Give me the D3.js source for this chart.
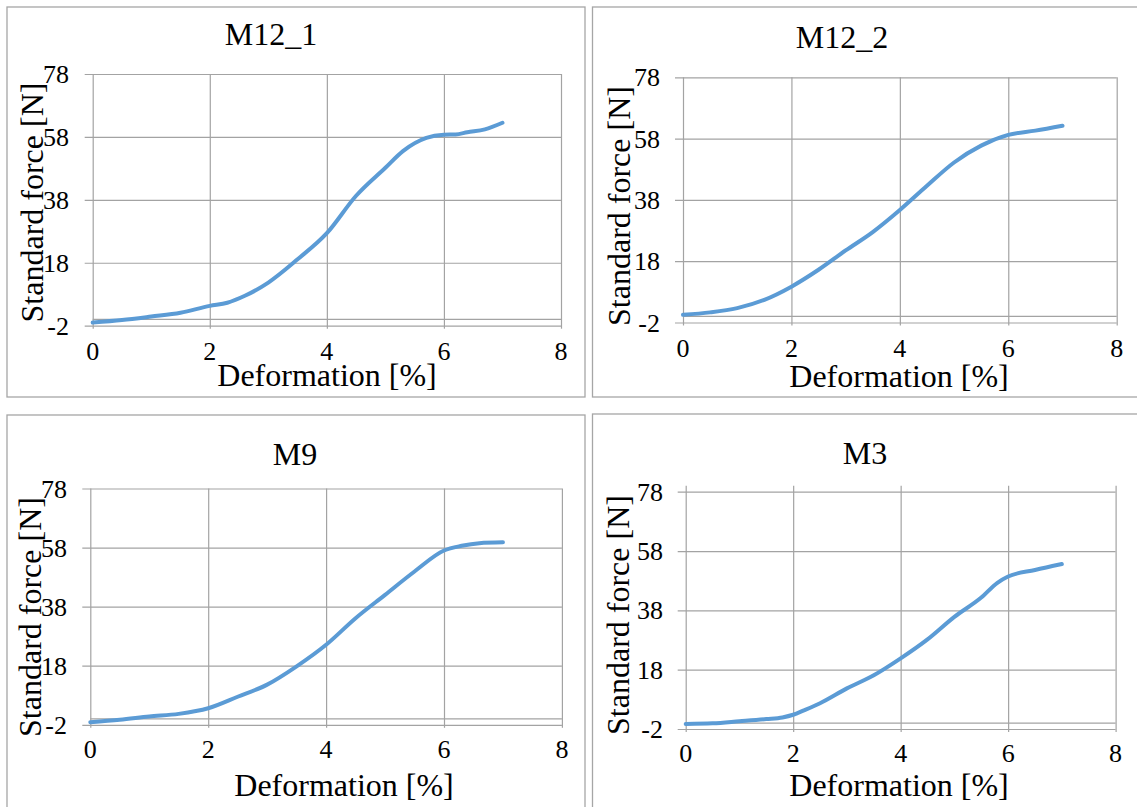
<!DOCTYPE html>
<html>
<head>
<meta charset="utf-8">
<script src="https://cdn.jsdelivr.net/npm/d3@7"></script>
<style>
  html, body { margin: 0; padding: 0; background: #fff; }
  svg { display: block; }
</style>
</head>
<body>
<svg id="chart" width="1137" height="807" font-family="'Liberation Serif', 'Times New Roman', serif"></svg>
<script>
// ---------- data ----------
const xTicks = [0, 2, 4, 6, 8];
const yTicks = [-2, 18, 38, 58, 78];
const xTitle = "Deformation [%]";
const yTitle = "Standard force [N]";
const panelTitles = ["M12_1", "M12_2", "M9", "M3"];

const m12_1_x = [0, 0.5, 1, 1.5, 2, 2.3, 2.6, 3, 3.5, 4, 4.5, 5, 5.3, 5.7, 6, 6.2, 6.4, 6.7, 7];
const m12_1_y = [-1.0, -0.2, 0.9, 2.1, 4.3, 5.3, 7.5, 11.7, 19.1, 27.4, 39.3, 48.2, 53.5, 57.7, 58.7, 58.8, 59.5, 60.4, 62.5];

const m12_2_x = [0, 0.5, 1, 1.5, 2, 2.5, 3, 3.5, 4, 4.5, 5, 5.5, 6, 6.5, 7];
const m12_2_y = [0.5, 1.3, 2.7, 5.4, 9.7, 15.2, 21.5, 27.5, 34.7, 42.6, 50.2, 55.7, 59.2, 60.6, 62.2];

const m9_x = [0, 0.5, 1, 1.5, 2, 2.5, 3, 3.5, 4, 4.5, 5, 5.5, 6, 6.3, 6.6, 7];
const m9_y = [-1.1, -0.3, 0.8, 1.7, 3.6, 7.5, 11.6, 17.8, 25.1, 34.1, 42.0, 49.9, 57.0, 58.6, 59.5, 59.8];

const m3_x = [0, 0.5, 1, 1.5, 1.8, 2, 2.2, 2.5, 3, 3.5, 4, 4.5, 5, 5.5, 5.8, 6, 6.5, 7];
const m3_y = [-0.3, -0.1, 0.6, 1.35, 1.9, 2.8, 4.3, 6.7, 11.7, 16.1, 21.8, 28.2, 35.8, 42.3, 47.3, 49.4, 51.6, 53.6];

const seriesX = [m12_1_x, m12_2_x, m9_x, m3_x];
const seriesY = [m12_1_y, m12_2_y, m9_y, m3_y];

// ---------- layout ----------
const layout = [
  { frame: [7, 7, 585, 397], plot: [92.7, 74, 561, 325.7], title: [271, 45], ytitle: [43, 202.5], xtitle: [327, 386], tickRight: 69, xLabelBase: 360, topTick: 0 },
  { frame: [592.5, 7, 1145, 397], plot: [683, 77.3, 1116.7, 322.5], title: [842, 48], ytitle: [630, 206], xtitle: [899, 386.5], tickRight: 660, xLabelBase: 356.5, topTick: 0 },
  { frame: [7, 415, 585, 815], plot: [90.3, 488.5, 561.9, 724.8], title: [295, 465], ytitle: [41, 617], xtitle: [344, 796], tickRight: 67, xLabelBase: 758, topTick: 0 },
  { frame: [592.5, 414, 1145, 815], plot: [685.7, 491.7, 1115.6, 729], title: [865, 464], ytitle: [629, 615], xtitle: [899, 796], tickRight: 663, xLabelBase: 761.5, topTick: 6 }
];

const FONT = "'Liberation Serif', 'Times New Roman', serif";
const gridColor = "#a3a3a3";
const frameColor = "#a6a6a6";
const lineColor = "#5b9bd5";

const svg = d3.select("#chart");
svg.append("rect").attr("width", 1137).attr("height", 807).attr("fill", "#fff");

layout.forEach((L, i) => {
  const g = svg.append("g");
  const [fx0, fy0, fx1, fy1] = L.frame;
  g.append("rect")
    .attr("x", fx0).attr("y", fy0)
    .attr("width", fx1 - fx0).attr("height", fy1 - fy0)
    .attr("fill", "#fff").attr("stroke", frameColor).attr("stroke-width", 1.3);

  const [pl, pt, pr, pb] = L.plot;
  const x = d3.scaleLinear().domain([0, 8]).range([pl, pr]);
  const y = d3.scaleLinear().domain([-2, 78]).range([pb, pt]);

  // horizontal gridlines + left ticks
  g.append("g")
    .attr("transform", `translate(${pl},0)`)
    .call(d3.axisLeft(y).tickValues(yTicks).tickSize(-(pr - pl)).tickFormat(""))
    .call(s => s.select(".domain").remove())
    .call(s => s.selectAll(".tick line").attr("stroke", gridColor).attr("stroke-width", 1.2).attr("x1", -8));

  // vertical gridlines
  g.append("g")
    .attr("transform", `translate(0,${pb})`)
    .call(d3.axisBottom(x).tickValues(xTicks).tickSize(-(pb - pt) - L.topTick).tickFormat(""))
    .call(s => s.select(".domain").remove())
    .call(s => s.selectAll(".tick line").attr("stroke", gridColor).attr("stroke-width", 1.2).attr("y1", 3));

  // horizontal axis at y = 0
  g.append("line")
    .attr("x1", pl).attr("x2", pr)
    .attr("y1", y(0)).attr("y2", y(0))
    .attr("stroke", gridColor).attr("stroke-width", 1.2);

  // y tick labels
  g.selectAll(".ylab").data(yTicks).enter().append("text")
    .attr("x", L.tickRight).attr("y", d => y(d) + 9)
    .attr("text-anchor", "end").attr("font-size", 26).attr("font-family", FONT)
    .text(d => d);

  // x tick labels
  g.selectAll(".xlab").data(xTicks).enter().append("text")
    .attr("x", d => x(d)).attr("y", L.xLabelBase)
    .attr("text-anchor", "middle").attr("font-size", 26).attr("font-family", FONT)
    .text(d => d);

  // titles
  g.append("text").attr("x", L.title[0]).attr("y", L.title[1])
    .attr("text-anchor", "middle").attr("font-size", 32).attr("font-family", FONT).text(panelTitles[i]);
  g.append("text").attr("x", L.xtitle[0]).attr("y", L.xtitle[1])
    .attr("text-anchor", "middle").attr("font-size", 32).attr("font-family", FONT).text(xTitle);
  g.append("text")
    .attr("transform", `translate(${L.ytitle[0]},${L.ytitle[1]}) rotate(-90)`)
    .attr("text-anchor", "middle").attr("font-size", 32).attr("font-family", FONT).text(yTitle);

  // series line
  const pts = seriesX[i].map((v, k) => [v, seriesY[i][k]]);
  const line = d3.line().x(d => x(d[0])).y(d => y(d[1])).curve(d3.curveMonotoneX);
  g.append("path").datum(pts)
    .attr("d", line)
    .attr("fill", "none").attr("stroke", lineColor)
    .attr("stroke-width", 4).attr("stroke-linecap", "round").attr("stroke-linejoin", "round");
});
</script>
</body>
</html>
